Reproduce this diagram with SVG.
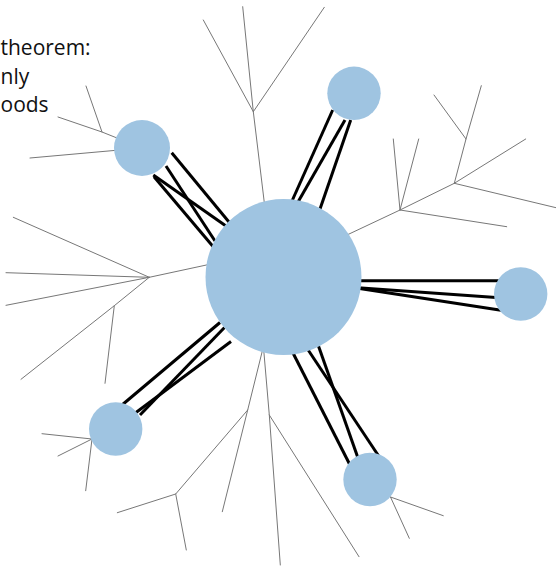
<svg xmlns="http://www.w3.org/2000/svg" width="556" height="566" viewBox="0 0 556 566">
  <style>
    .branch { fill: none; stroke: #777; stroke-width: 1; stroke-linecap: round; stroke-linejoin: round; }
    .link { fill: none; stroke: #000; stroke-width: 3; }
    .node circle { fill: #9fc4e1; }
    .caption { font-family: "Open Sans", "Liberation Sans", sans-serif; font-size: 21px; fill: #111; }
  </style>

  <g id="caption">
    <text class="caption" x="0.5" y="55">theorem:</text>
    <text class="caption" x="0.5" y="83.5">nly</text>
    <text class="caption" x="0.5" y="112">oods</text>
  </g>

  <g id="connectors">
    <!-- thin branching trees -->
    <g id="branches">
      <!-- top tree -->
      <polyline class="branch" points="267,225 253.3,111.7 203.3,20"/>
      <polyline class="branch" points="253.3,111.7 242.7,6.7"/>
      <polyline class="branch" points="253.3,111.7 324.3,7.3"/>
      <!-- right tree -->
      <polyline class="branch" points="330,243 400,210 454.3,183.3 466,139 434,95"/>
      <polyline class="branch" points="466,139 481.3,85.7"/>
      <polyline class="branch" points="454.3,183.3 525.7,139"/>
      <polyline class="branch" points="454.3,183.3 556,207.7"/>
      <polyline class="branch" points="400,210 393.3,139"/>
      <polyline class="branch" points="400,210 418.7,139"/>
      <polyline class="branch" points="400,210 506.7,226.7"/>
      <!-- left tree -->
      <polyline class="branch" points="232,259.5 149.3,277.3 13.3,217.3"/>
      <polyline class="branch" points="149.3,277.3 6,272.7"/>
      <polyline class="branch" points="149.3,277.3 6,305.3"/>
      <polyline class="branch" points="149.3,277.3 114.3,305.7 21,379.3"/>
      <polyline class="branch" points="114.3,305.7 105,383.3"/>
      <!-- lower trees -->
      <polyline class="branch" points="267,332 247.7,410 175.7,494 117.3,512.7"/>
      <polyline class="branch" points="175.7,494 186.3,550"/>
      <polyline class="branch" points="247.7,410 222.3,511.7"/>
      <polyline class="branch" points="262,330 269.3,415 280.3,565"/>
      <polyline class="branch" points="269.3,415 359,556.7"/>
      <!-- leaves on the small nodes -->
      <polyline class="branch" points="142,148 102,132 58,117"/>
      <polyline class="branch" points="102,132 86,86"/>
      <polyline class="branch" points="142,148 30,158"/>
      <polyline class="branch" points="116,429 92,439 42,433.7"/>
      <polyline class="branch" points="92,439 58,456"/>
      <polyline class="branch" points="92,439 85.7,490.7"/>
      <polyline class="branch" points="370,480 390.5,497 443.3,515.7"/>
      <polyline class="branch" points="390.5,497 409.3,538.3"/>
    </g>

    <!-- heavy links between the hub and the satellites -->
    <g id="links">
      <line class="link" x1="171.7" y1="152.7" x2="230" y2="223.3"/>
      <line class="link" x1="166" y1="166" x2="215" y2="241"/>
      <line class="link" x1="153.3" y1="175" x2="226" y2="226"/>
      <line class="link" x1="154" y1="176.7" x2="213" y2="246.5"/>

      <line class="link" x1="332.7" y1="110" x2="292" y2="201"/>
      <line class="link" x1="345" y1="120" x2="298" y2="202"/>
      <line class="link" x1="350.7" y1="120" x2="320" y2="209"/>

      <line class="link" x1="358" y1="280.7" x2="500" y2="280.7"/>
      <line class="link" x1="358" y1="287.8" x2="496" y2="297.5"/>
      <line class="link" x1="358" y1="288.2" x2="501" y2="310.3"/>

      <line class="link" x1="292.5" y1="352" x2="349.5" y2="464"/>
      <line class="link" x1="307.5" y1="349" x2="379" y2="456.5"/>
      <line class="link" x1="318.3" y1="345.5" x2="358" y2="458"/>

      <line class="link" x1="122" y1="405" x2="220" y2="322.5"/>
      <line class="link" x1="135" y1="413.3" x2="231" y2="341.5"/>
      <line class="link" x1="140" y1="415" x2="224.5" y2="327.5"/>
    </g>
  </g>

  <g id="hub" class="node"><circle cx="283.5" cy="277" r="78"/></g>
  <g id="node-upper-left" class="node"><circle cx="142" cy="148" r="28"/></g>
  <g id="node-top" class="node"><circle cx="354" cy="93.3" r="26.7"/></g>
  <g id="node-right" class="node"><circle cx="520.7" cy="294" r="26.7"/></g>
  <g id="node-lower-left" class="node"><circle cx="115.7" cy="429" r="26.7"/></g>
  <g id="node-lower-right" class="node"><circle cx="370" cy="479.5" r="26.7"/></g>
</svg>
